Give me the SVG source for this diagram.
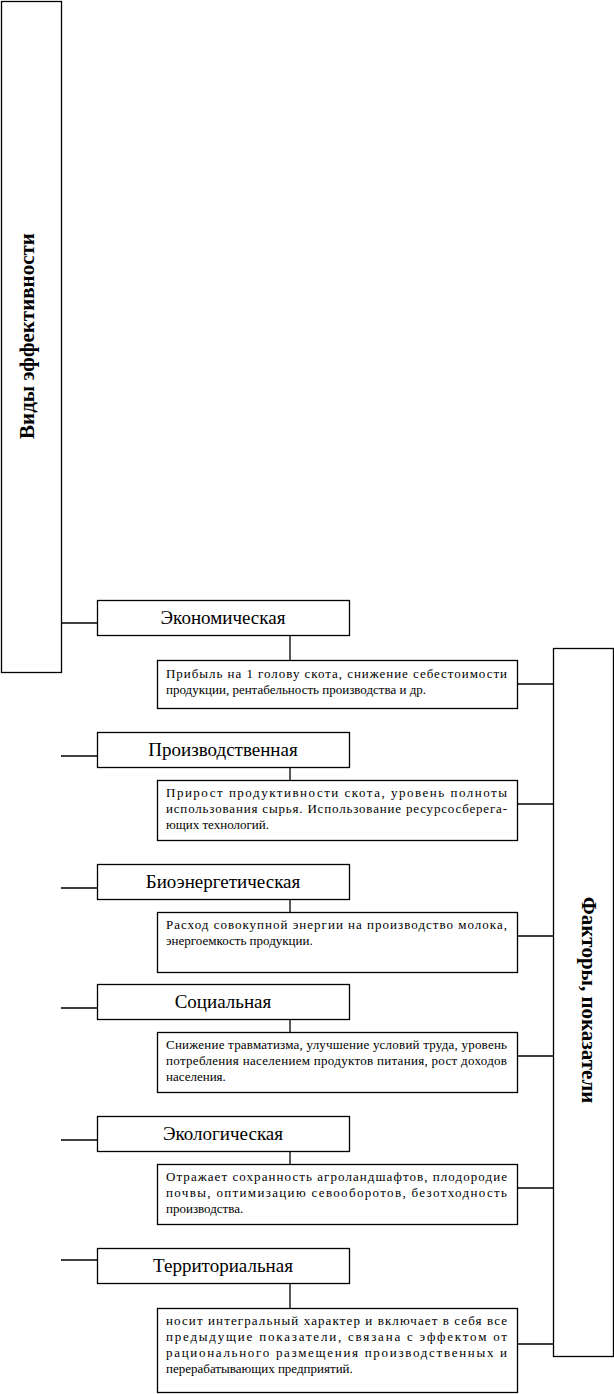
<svg xmlns="http://www.w3.org/2000/svg" width="614" height="1394" viewBox="0 0 614 1394">
<style>
rect{fill:#fff;stroke:#000;stroke-width:1.3}
line{stroke:#000;stroke-width:1.3}
.t{font-family:"Liberation Serif","Times New Roman",serif;font-size:19px;text-anchor:middle;fill:#000}
.v{font-family:"Liberation Serif","Times New Roman",serif;font-size:21px;font-weight:bold;text-anchor:middle;fill:#000}
.d{font-family:"Liberation Serif","Times New Roman",serif;font-size:13px;fill:#000}
</style>
<rect width="614" height="1394" style="fill:#fff;stroke:none"/>
<g id="connectors">
<line x1="61" y1="623" x2="97" y2="623"/>
<line x1="61" y1="756" x2="97" y2="756"/>
<line x1="61" y1="888" x2="97" y2="888"/>
<line x1="61" y1="1008" x2="97" y2="1008"/>
<line x1="61" y1="1140" x2="97" y2="1140"/>
<line x1="61" y1="1260" x2="97" y2="1260"/>
<line x1="290" y1="636" x2="290" y2="660"/>
<line x1="290" y1="768" x2="290" y2="780"/>
<line x1="290" y1="900" x2="290" y2="912"/>
<line x1="290" y1="1020" x2="290" y2="1032"/>
<line x1="290" y1="1152" x2="290" y2="1164"/>
<line x1="290" y1="1284" x2="290" y2="1308"/>
<line x1="517" y1="684" x2="553" y2="684"/>
<line x1="517" y1="804" x2="553" y2="804"/>
<line x1="517" y1="936" x2="553" y2="936"/>
<line x1="517" y1="1056" x2="553" y2="1056"/>
<line x1="517" y1="1188" x2="553" y2="1188"/>
<line x1="517" y1="1344" x2="553" y2="1344"/>
</g>
<g id="vidy">
<rect x="1.5" y="1.5" width="60" height="671"/>
<text class="v" transform="translate(34,336) rotate(-90)">Виды эффективности</text>
</g>
<g id="faktory">
<rect x="553.5" y="648.5" width="60" height="708"/>
<text class="v" transform="translate(582,1000) rotate(90)">Факторы, показатели</text>
</g>
<g id="ekonom">
<rect x="97.5" y="600.5" width="252" height="35"/>
<text class="t" x="223" y="624">Экономическая</text>
</g>
<g id="ekonom-f">
<rect x="157.5" y="660.5" width="360" height="48"/>
<text class="d" x="166" y="678" textLength="341" lengthAdjust="spacing">Прибыль на 1 голову скота, снижение себестоимости</text>
<text class="d" x="166" y="694">продукции, рентабельность производства и др.</text>
</g>
<g id="proizv">
<rect x="97.5" y="732.5" width="252" height="35"/>
<text class="t" x="223" y="756">Производственная</text>
</g>
<g id="proizv-f">
<rect x="157.5" y="780.5" width="360" height="60"/>
<text class="d" x="166" y="797" textLength="341" lengthAdjust="spacing">Прирост продуктивности скота, уровень полноты</text>
<text class="d" x="166" y="813" textLength="341" lengthAdjust="spacing">использования сырья. Использование ресурсосберега-</text>
<text class="d" x="166" y="829">ющих технологий.</text>
</g>
<g id="bio">
<rect x="97.5" y="864.5" width="252" height="35"/>
<text class="t" x="223" y="888">Биоэнергетическая</text>
</g>
<g id="bio-f">
<rect x="157.5" y="912.5" width="360" height="60"/>
<text class="d" x="166" y="929" textLength="341" lengthAdjust="spacing">Расход совокупной энергии на производство молока,</text>
<text class="d" x="166" y="945">энергоемкость продукции.</text>
</g>
<g id="soc">
<rect x="97.5" y="984.5" width="252" height="35"/>
<text class="t" x="223" y="1008">Социальная</text>
</g>
<g id="soc-f">
<rect x="157.5" y="1032.5" width="360" height="60"/>
<text class="d" x="166" y="1049" textLength="341" lengthAdjust="spacing">Снижение травматизма, улучшение условий труда, уровень</text>
<text class="d" x="166" y="1065" textLength="341" lengthAdjust="spacing">потребления населением продуктов питания, рост доходов</text>
<text class="d" x="166" y="1081">населения.</text>
</g>
<g id="ekol">
<rect x="97.5" y="1116.5" width="252" height="35"/>
<text class="t" x="223" y="1140">Экологическая</text>
</g>
<g id="ekol-f">
<rect x="157.5" y="1164.5" width="360" height="60"/>
<text class="d" x="166" y="1181" textLength="341" lengthAdjust="spacing">Отражает сохранность агроландшафтов, плодородие</text>
<text class="d" x="166" y="1197" textLength="341" lengthAdjust="spacing">почвы, оптимизацию севооборотов, безотходность</text>
<text class="d" x="166" y="1213">производства.</text>
</g>
<g id="terr">
<rect x="97.5" y="1248.5" width="252" height="35"/>
<text class="t" x="223" y="1272">Территориальная</text>
</g>
<g id="terr-f">
<rect x="157.5" y="1308.5" width="360" height="84"/>
<text class="d" x="166" y="1325" textLength="341" lengthAdjust="spacing">носит интегральный характер и включает в себя все</text>
<text class="d" x="166" y="1341" textLength="341" lengthAdjust="spacing">предыдущие показатели, связана с эффектом от</text>
<text class="d" x="166" y="1357" textLength="341" lengthAdjust="spacing">рационального размещения производственных и</text>
<text class="d" x="166" y="1373">перерабатывающих предприятий.</text>
</g>
</svg>
